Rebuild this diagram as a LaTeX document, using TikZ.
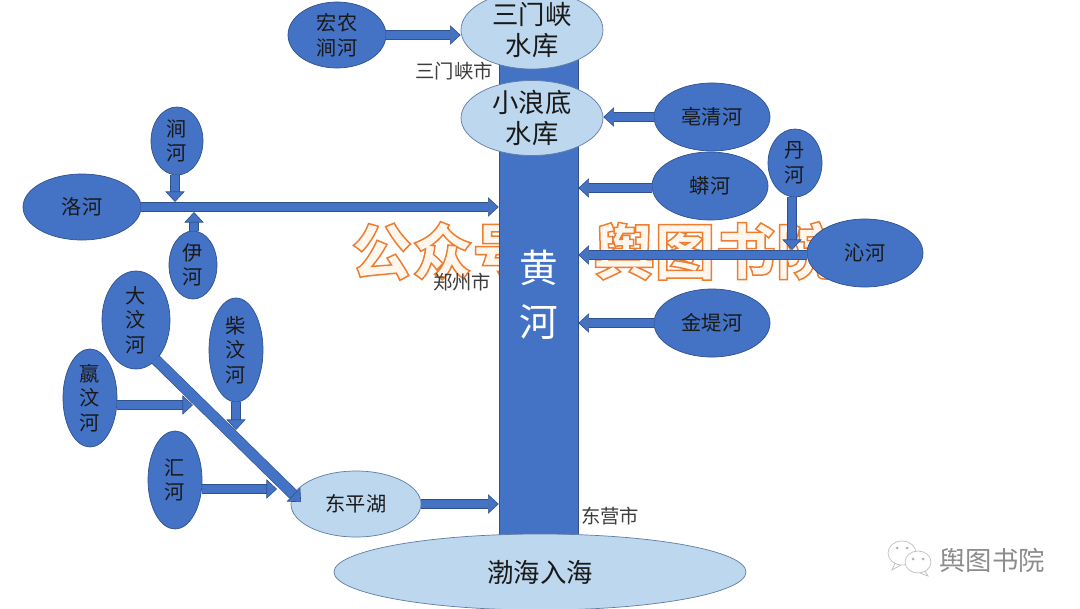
\documentclass[tikz,border=0pt]{standalone}
\usepackage{fontspec}
\usepackage{tikz}
\usetikzlibrary{arrows.meta,positioning,shapes.geometric,calc}
\newfontfamily\cjk{Noto Sans CJK SC}
\definecolor{riverblue}{RGB}{68,114,196}
\definecolor{riveredge}{RGB}{47,82,143}
\definecolor{lakeblue}{RGB}{189,215,238}
\definecolor{lakeedge}{RGB}{96,125,165}
\definecolor{labelgrey}{RGB}{60,60,60}

\begin{document}
\begin{tikzpicture}[x=0.2mm,y=-0.2mm,
    trib/.style 2 args={ellipse,draw=riveredge,fill=riverblue,align=center,inner sep=0pt,
      minimum width=#1*0.2mm,minimum height=#2*0.2mm,text=black!90,
      font=\cjk\fontsize{11.5}{14}\selectfont},
    lake/.style 2 args={ellipse,draw=lakeedge,fill=lakeblue,align=center,inner xsep=0pt,inner ysep=-3pt,
      minimum width=#1*0.2mm,minimum height=#2*0.2mm,text=black!90,
      font=\cjk\fontsize{15}{18}\selectfont},
    city/.style={text=labelgrey,inner sep=0pt,font=\cjk\fontsize{11}{13}\selectfont},
    flow/.style={draw=riveredge,line width=0.35pt,double=riverblue,double distance=4.6pt,
      -{Triangle[length=6pt,width=11pt,fill=riverblue,line width=0.35pt]}}
  ]
    \useasboundingbox (0,0) rectangle (1080,608);
    \fill[white] (0,0) rectangle (1080,608);
    % watermark, behind everything
    \node[inner sep=0pt,font=\cjk\bfseries\fontsize{34.5}{36}\selectfont] (wm) at (594,251)
      {\special{pdf:code q 2 Tr 0.85 w 0.93 0.49 0.19 RG 1 0.97 0.93 rg}公众号：舆图书院\special{pdf:code Q}};
    % main stream
    \node[rectangle,draw=riveredge,fill=riverblue,text=white,align=center,inner sep=0pt,
      minimum width=79*0.2mm,minimum height=490*0.2mm,
      font=\cjk\fontsize{22}{31}\selectfont] (huanghe) at (538.5,295) {黄\\河};
    % reservoirs and sea
    \node[lake={142}{78}] (sanmenxia) at (532,30) {三门峡\\水库};
    \node[lake={142}{75}] (xiaolangdi) at (532,118) {小浪底\\水库};
    \node[lake={412}{76}] (bohai) at (540,572) {渤海入海};
    \node[lake={130}{66},font=\cjk\fontsize{11.5}{14}\selectfont] (dongping) at (356,504) {东平湖};
    % tributaries
    \node[trib={98}{66}] (hongnong) at (337,35) {宏农\\涧河};
    \node[trib={116}{68}] (haoqing) at (712,117) {亳清河};
    \node[trib={116}{68}] (manghe) at (710,186) {蟒河};
    \node[trib={54}{68}] (danhe) at (795,163) {丹\\河};
    \node[trib={116}{68}] (qinhe) at (865,253) {沁河};
    \node[trib={116}{68}] (jindi) at (712,323) {金堤河};
    \node[trib={52}{68}] (jianhe) at (177,141) {涧\\河};
    \node[trib={118}{66}] (luohe) at (82,207) {洛河};
    \node[trib={48}{68}] (yihe) at (193,265) {伊\\河};
    \node[trib={68}{98}] (dawen) at (136,320) {大\\汶\\河};
    \node[trib={54}{104}] (chaiwen) at (236,350) {柴\\汶\\河};
    \node[trib={54}{98}] (yingwen) at (90,398) {嬴\\汶\\河};
    \node[trib={54}{98}] (huihe) at (175,480) {汇\\河};
    % free ends of the arrows that stop in open paper
    \coordinate (jianend) at (175,202);
    \coordinate (yiend) at (194,212);
    \coordinate (danend) at (792,250);
    \coordinate (yingend) at (193,405);
    \coordinate (chaiend) at (236,430);
    \coordinate (huiend) at (277,489);
    \coordinate (dawenstart) at (155,359);
    \coordinate (dawenend) at (301,502);
    % arrows
    \draw[flow] (hongnong.east) -- (hongnong.east -| sanmenxia.west);
    \draw[flow] (haoqing.west) -- (haoqing.west -| xiaolangdi.east);
    \draw[flow] ([yshift=-0.4mm]manghe.west) -- ([yshift=-0.4mm]manghe.west -| huanghe.east);
    \draw[flow] ([yshift=-0.4mm]qinhe.west) -- ([yshift=-0.4mm]qinhe.west -| huanghe.east);
    \draw[flow] (jindi.west) -- (jindi.west -| huanghe.east);
    \draw[flow] (luohe.east) -- (luohe.east -| huanghe.west);
    \draw[flow] (dongping.east) -- (dongping.east -| huanghe.west);
    \draw[flow] (jianhe.south -| jianend) -- (jianend);
    \draw[flow] (yihe.north -| yiend) -- (yiend);
    \draw[flow] (danhe.south -| danend) -- (danend);
    \draw[flow] (yingwen.east |- yingend) -- (yingend);
    \draw[flow] (chaiwen.south) -- (chaiend);
    \draw[flow] (huihe.east |- huiend) -- (huiend);
    \draw[flow,double distance=5.6pt] (dawenstart) -- (dawenend);
    % city labels
    \node[city] (sanmenshi) at (454,71) {三门峡市};
    \node[city] (zhengzhou) at (462,282) {郑州市};
    \node[city] (dongying) at (610,516) {东营市};
    % account mark
    \node[inner sep=0pt,text=black!45,font=\cjk\fontsize{15}{17}\selectfont] (account) at (992,560) {舆图书院};
    \draw[black!25,fill=white] (902,553) ellipse (14 and 12) (895,563) -- (892,570) -- (901,565);
    \draw[black!25,fill=white] (918,562) ellipse (13 and 11) (925,571) -- (928,576) -- (920,573);
    \fill[black!30] (897,548) circle (1.5) (907,548) circle (1.5) (913,559) circle (1.5) (923,559) circle (1.5);
  \end{tikzpicture}
\end{document}
